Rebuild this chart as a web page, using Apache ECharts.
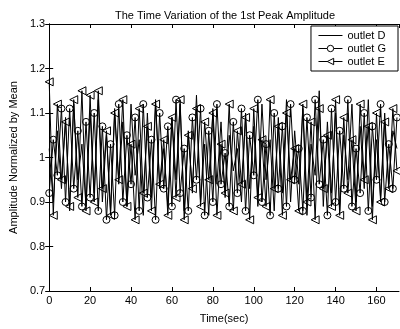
<!DOCTYPE html>
<html>
<head>
<meta charset="utf-8">
<script src="https://cdn.jsdelivr.net/npm/echarts@6/dist/echarts.min.js"></script>
<style>html,body{margin:0;padding:0;background:#fff}#c{width:400px;height:329px}</style>
</head>
<body>
<div id="c"></div>
<script>
var time = [0,2,4,6,8,10,12,14,16,18,20,22,24,26,28,30,32,34,36,38,40,42,44,46,48,50,52,54,56,58,60,62,64,66,68,70,72,74,76,78,80,82,84,86,88,90,92,94,96,98,100,102,104,106,108,110,112,114,116,118,120,122,124,126,128,130,132,134,136,138,140,142,144,146,148,150,152,154,156,158,160,162,164,166,168,170];
var outletD = [1.02,0.90,1.06,0.93,1.09,0.88,1.12,0.95,1.03,0.89,
1.10,0.92,1.13,0.90,1.05,0.88,1.11,0.94,1.08,0.89,
1.12,0.96,1.04,0.87,1.10,0.91,1.13,0.93,1.02,0.89,
1.09,0.95,1.12,0.88,1.06,0.92,1.14,0.90,1.03,0.87,
1.11,0.94,1.08,0.91,1.05,0.97,1.02,0.90,1.10,0.93,
1.07,0.89,1.12,0.95,1.04,0.88,1.09,0.92,1.13,0.90,
1.06,0.94,1.11,0.87,1.03,0.96,1.15,0.89,1.08,0.92,
1.10,0.88,1.05,0.95,1.12,0.90,1.07,0.93,1.13,0.89,
1.04,0.91,1.10,0.94,1.06,1.02];
var outletG = [0.92,1.04,0.96,1.11,0.90,1.11,0.93,1.06,0.89,1.08,
0.91,1.10,0.88,1.07,0.86,1.03,0.87,1.12,0.90,1.05,
0.94,1.09,0.88,1.12,0.91,1.04,0.86,1.10,0.93,1.07,
0.89,1.13,0.92,1.02,0.88,1.09,0.95,1.11,0.87,1.06,
0.90,1.12,0.94,1.01,0.89,1.08,0.92,1.11,0.88,1.05,
0.96,1.13,0.90,1.03,0.87,1.10,0.93,1.07,0.89,1.12,
0.95,1.02,0.88,1.09,0.91,1.13,0.94,1.04,0.87,1.11,
0.90,1.06,0.93,1.13,0.89,1.02,0.92,1.10,0.88,1.07,
0.95,1.12,0.90,1.03,0.93,1.09];
var outletE = [1.17,0.87,1.12,0.95,1.08,0.89,1.13,0.91,1.15,0.88,
1.14,0.90,1.15,0.93,1.06,0.87,1.10,0.95,1.13,0.89,
1.03,0.86,1.11,0.92,1.07,0.88,1.12,0.94,1.04,0.87,
1.09,0.91,1.13,0.86,1.05,0.93,1.11,0.89,1.08,0.95,
1.10,0.87,1.03,0.92,1.12,0.88,1.06,0.94,1.09,0.86,
1.11,0.91,1.04,0.89,1.13,0.93,1.07,0.87,1.10,0.95,
1.02,0.88,1.12,0.90,1.08,0.86,1.11,0.93,1.05,0.89,
1.13,0.87,1.09,0.92,1.04,0.88,1.12,0.95,1.07,0.86,
1.10,0.90,1.08,0.93,1.11,0.97];
var seriesNames = ['outlet D','outlet G','outlet E'];

function pairs(vals){ return time.map(function(t,i){ return [t, vals[i]]; }); }

var font = 'Liberation Sans, Arial, sans-serif';
var axisCommon = {
  axisLine:{show:true,lineStyle:{color:'#000',width:1}},
  axisTick:{show:true,inside:true,length:4,lineStyle:{color:'#000'}},
  splitLine:{show:false}
};
var hollow = {color:'#fff',borderColor:'#000',borderWidth:1};
var chart = echarts.init(document.getElementById('c'), null, {renderer:'canvas'});
chart.setOption({
  backgroundColor:'#fff',
  animation:false,
  title:{text:'The Time Variation of the 1st Peak Amplitude',left:220,textAlign:'center',top:5,
    textStyle:{fontFamily:font,fontSize:11,fontWeight:'normal',color:'#000'}},
  grid:{left:42,right:1,top:24,bottom:35},
  legend:{
    data:[
      {name:seriesNames[0],itemStyle:{opacity:0}},
      {name:seriesNames[1],itemStyle:hollow},
      {name:seriesNames[2],itemStyle:hollow}
    ],
    orient:'vertical', right:2, top:26,
    backgroundColor:'#fff', borderColor:'#000', borderWidth:1,
    padding:[4,12,4,7], itemGap:2, itemWidth:24, itemHeight:8,
    lineStyle:{width:1,color:'#000'},
    textStyle:{fontFamily:font,fontSize:11,color:'#000'}
  },
  xAxis:[
    Object.assign({type:'value',min:0,max:171,interval:20,position:'bottom',
      name:'Time(sec)',nameLocation:'middle',nameGap:22,
      nameTextStyle:{fontFamily:font,fontSize:11,color:'#000'},
      axisLabel:{fontFamily:font,fontSize:11,color:'#000',margin:4,showMaxLabel:false}}, axisCommon),
    Object.assign({type:'value',min:0,max:171,interval:20,position:'top',
      axisLabel:{show:false}}, axisCommon)
  ],
  yAxis:[
    Object.assign({type:'value',min:0.7,max:1.3,interval:0.1,position:'left',
      name:'Amplitude Normalized by Mean',nameLocation:'middle',nameGap:29,
      nameTextStyle:{fontFamily:font,fontSize:11,color:'#000'},
      axisLabel:{fontFamily:font,fontSize:11,color:'#000',margin:4,
        formatter:function(v){return String(+v.toFixed(1));}}}, axisCommon),
    Object.assign({type:'value',min:0.7,max:1.3,interval:0.1,position:'right',
      axisLabel:{show:false}}, axisCommon)
  ],
  series:[
    {name:seriesNames[0],type:'line',data:pairs(outletD),symbol:'none',
      lineStyle:{color:'#000',width:1},itemStyle:{color:'#000'}},
    {name:seriesNames[1],type:'line',data:pairs(outletG),symbol:'circle',symbolSize:7,
      lineStyle:{color:'#000',width:1},itemStyle:{color:'rgba(255,255,255,0)',borderColor:'#000',borderWidth:1}},
    {name:seriesNames[2],type:'line',data:pairs(outletE),symbol:'triangle',symbolSize:8,symbolRotate:90,
      lineStyle:{color:'#000',width:1},itemStyle:{color:'rgba(255,255,255,0)',borderColor:'#000',borderWidth:1}}
  ]
});
</script>
</body>
</html>
